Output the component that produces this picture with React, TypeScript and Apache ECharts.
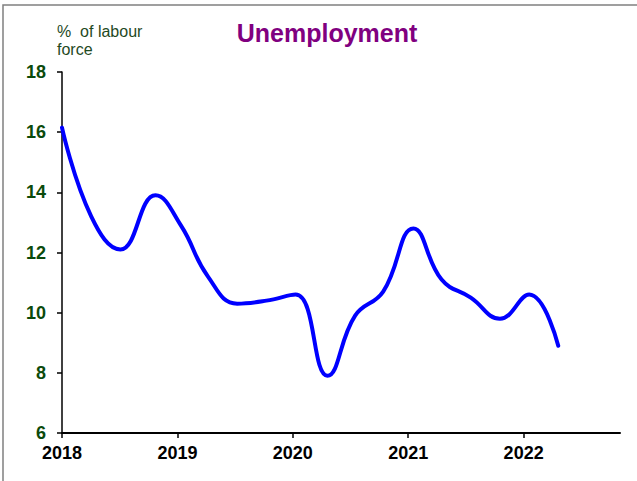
import React, { useEffect, useRef } from "react";
import * as echarts from "echarts";

const title = "Unemployment";
const yAxisName = "%  of labour\nforce";
const xPositions = [
  2018.0, 2018.253, 2018.506, 2018.81, 2019.03, 2019.265, 2019.518, 2019.771, 2020.024,
  2020.3, 2020.54, 2020.783, 2021.045, 2021.289, 2021.542, 2021.795, 2022.048, 2022.3,
];
const unemployment = [
  16.15, 13.2, 12.1, 13.9, 12.9, 11.2, 10.3, 10.4, 10.6,
  7.9, 9.9, 10.7, 12.8, 11.1, 10.5, 9.8, 10.6, 8.9,
];
const yTicks = { min: 6, max: 18, interval: 2 };
const xRange = { min: 2018, max: 2022.835, interval: 1 };

export default function App() {
  const ref = useRef<HTMLDivElement>(null);
  useEffect(() => {
    if (!ref.current) return;
    const chart = echarts.init(ref.current, null, { renderer: "svg" });
    const data = xPositions.map((x, i) => [x, unemployment[i]]);
    chart.setOption({
      animation: false,
      backgroundColor: "#ffffff",
      grid: { left: 62, top: 72, right: 17, bottom: 48, containLabel: false },
      graphic: [
        {
          type: "rect",
          shape: { x: 3, y: 5, width: 660, height: 500 },
          style: { fill: "none", stroke: "#808080", lineWidth: 1.5 },
          silent: true,
        },
        {
          type: "text",
          x: 327,
          y: 20,
          style: {
            text: title,
            fill: "#800080",
            font: "bold 25px Arial, 'Liberation Sans', sans-serif",
            textAlign: "center",
            textVerticalAlign: "top",
          },
        },
        {
          type: "text",
          x: 57,
          y: 22,
          style: {
            text: yAxisName,
            fill: "#1f4a1f",
            font: "16px Arial, 'Liberation Sans', sans-serif",
            lineHeight: 18,
            textAlign: "left",
            textVerticalAlign: "top",
          },
        },
      ],
      xAxis: {
        type: "value",
        min: xRange.min,
        max: xRange.max,
        interval: xRange.interval,
        splitLine: { show: false },
        axisLine: { show: true, lineStyle: { color: "#000", width: 2 } },
        axisTick: { show: true, inside: false, length: 5, lineStyle: { color: "#000", width: 1.5 } },
        axisLabel: {
          showMaxLabel: false,
          color: "#000",
          fontSize: 18,
          fontWeight: "bold",
          fontFamily: "Arial, 'Liberation Sans', sans-serif",
          margin: 11,
          formatter: (v: number) => String(Math.round(v)),
        },
      },
      yAxis: {
        type: "value",
        min: yTicks.min,
        max: yTicks.max,
        interval: yTicks.interval,
        splitLine: { show: false },
        axisLine: { show: true, lineStyle: { color: "#000", width: 1.5 } },
        axisTick: { show: true, inside: false, length: 5, lineStyle: { color: "#000", width: 1.5 } },
        axisLabel: {
          color: "#0b4a0b",
          fontSize: 18,
          fontWeight: "bold",
          fontFamily: "Arial, 'Liberation Sans', sans-serif",
          margin: 16,
        },
      },
      series: [
        {
          type: "line",
          data,
          smooth: 0.45,
          showSymbol: false,
          symbol: "none",
          lineStyle: { color: "#0000ff", width: 4, cap: "round" },
        },
      ],
    });
    return () => chart.dispose();
  }, []);
  return (
    <div
      ref={ref}
      style={{ position: "fixed", left: 0, top: 0, width: 637, height: 481 }}
    />
  );
}
